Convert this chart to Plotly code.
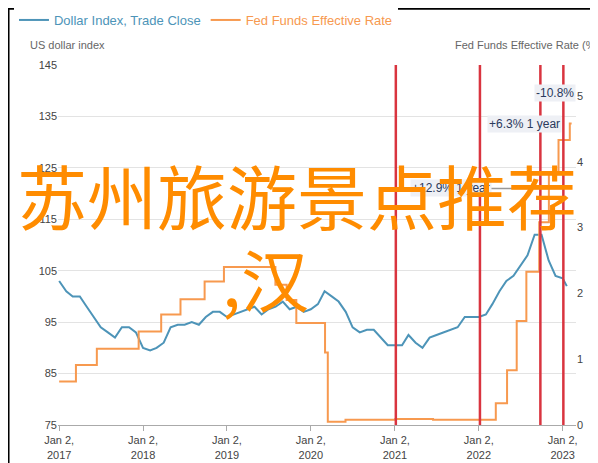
import plotly.graph_objects as go

dxy_dates = [f"{y}-{m:02d}-02" for y in range(2017, 2023) for m in range(1, 13)] + ["2023-01-02", "2023-01-20"]
dxy_vals = [103, 101, 100, 100, 98, 96, 94, 93, 92, 94, 94, 93,
            90, 89.5, 90, 91, 94, 94.5, 94.5, 95, 94.5, 96, 97, 97,
            96, 96.5, 97, 97.5, 98, 96.5, 97.5, 98, 99, 97.5, 98, 97,
            97.5, 98.5, 101, 100, 99, 97, 94, 93, 93.5, 93.5, 92, 90.5,
            90.5, 90.5, 92.5, 91, 90, 92, 92.5, 93, 93.5, 94, 96, 96,
            96, 96.5, 98.5, 101, 103, 104, 106, 108, 112, 112, 107, 104,
            103.5, 102]

ff_dates = ["2017-01-02", "2017-03-16", "2017-06-15", "2017-12-14", "2018-03-22", "2018-06-14",
            "2018-09-27", "2018-12-20", "2019-08-01", "2019-09-19", "2019-10-31", "2020-03-04",
            "2020-03-16", "2020-06-01", "2021-01-04", "2021-06-17", "2022-03-17", "2022-05-05",
            "2022-06-16", "2022-07-28", "2022-09-22", "2022-11-03", "2022-12-15", "2023-02-02", "2023-02-10"]
ff_vals = [0.66, 0.91, 1.16, 1.42, 1.68, 1.91, 2.18, 2.40, 2.13, 1.90, 1.55, 1.10,
           0.05, 0.08, 0.09, 0.08, 0.33, 0.83, 1.58, 2.33, 3.08, 3.83, 4.33, 4.58, 4.58]

event_dates = ["2021-01-06", "2022-01-07", "2022-09-27", "2023-01-05"]
tick_dates = [f"{y}-01-02" for y in range(2017, 2024)]
tick_text = [f"Jan 2,<br>{y}" for y in range(2017, 2024)]

blue = "#4d94b8"
orange = "#f7994f"

fig = go.Figure()
fig.add_trace(go.Scatter(x=dxy_dates, y=dxy_vals,
                         name=f"<span style='color:{blue}'>Dollar Index, Trade Close</span>",
                         line=dict(color=blue, width=2)))
fig.add_trace(go.Scatter(x=ff_dates, y=ff_vals, yaxis="y2",
                         name=f"<span style='color:{orange}'>Fed Funds Effective Rate</span>",
                         line=dict(color=orange, width=2, shape="hv")))

for d in event_dates:
    fig.add_shape(type="line", x0=d, x1=d, y0=0, y1=1, yref="paper", xref="x",
                  line=dict(color="#d9343f", width=2.5))

box = dict(bgcolor="#eef0f5", font=dict(color="#2b3a5c", size=12, family="Liberation Sans"), showarrow=False)
fig.add_annotation(x="2022-12-01", y=139.5, text="-10.8%", **box)
fig.add_annotation(x="2022-07-20", y=133.5, text="+6.3% 1 year", **box)
fig.add_shape(type="line", x0="2021-01-20", x1="2023-01-01", y0=121, y1=121, line=dict(color="#999", width=1.5))
fig.add_annotation(x="2021-09-01", y=121, text="+12.9% 1 year", **box)

fig.add_annotation(x=0, y=1.055, xref="paper", yref="paper", text="US dollar index", showarrow=False,
                   xanchor="left", yanchor="middle", font=dict(color="#666", size=11, family="Liberation Sans"), xshift=-30)
fig.add_annotation(x=1, y=1.055, xref="paper", yref="paper", text="Fed Funds Effective Rate (%)", showarrow=False,
                   xanchor="right", yanchor="middle", font=dict(color="#666", size=11, family="Liberation Sans"), xshift=25)

fig.add_annotation(x=0.5, y=0.64, xref="paper", yref="paper", text="苏州旅游景点推荐", showarrow=False,
                   font=dict(color="#ff8c00", size=70, family="Noto Sans CJK SC"), xshift=-20)
fig.add_annotation(x=0.4, y=0.41, xref="paper", yref="paper", text=",汉", showarrow=False,
                   font=dict(color="#ff8c00", size=68, family="Noto Sans CJK SC"))

fig.add_shape(type="rect", xref="paper", yref="paper", x0=-0.0955, x1=1.056, y0=-0.126, y1=1.156,
              line=dict(color="black", width=2))

fig.update_layout(
    width=598, height=463, margin=dict(l=50, r=30, t=57, b=46, autoexpand=False),
    plot_bgcolor="white", paper_bgcolor="white",
    font=dict(family="Liberation Sans", size=12, color="#444"),
    showlegend=True,
    legend=dict(orientation="h", x=-0.085, y=1.125, xanchor="left", yanchor="middle",
                font=dict(size=13), itemwidth=30),
    xaxis=dict(range=["2016-12-28", "2023-03-01"], tickvals=tick_dates, ticktext=tick_text,
               showgrid=False, showline=True, linecolor="#aaa", ticks="outside", tickcolor="#aaa",
               ticklen=5, tickfont=dict(size=11, color="#444")),
    yaxis=dict(range=[75, 145], tickvals=list(range(75, 146, 10)), gridcolor="#e3e3e3",
               zeroline=False, tickfont=dict(size=11, color="#444")),
    yaxis2=dict(range=[0, 5.47], overlaying="y", side="right", tickvals=[0, 1, 2, 3, 4, 5],
                showgrid=False, zeroline=False, tickfont=dict(size=11, color="#444")),
)
fig.write_html("out.html")
